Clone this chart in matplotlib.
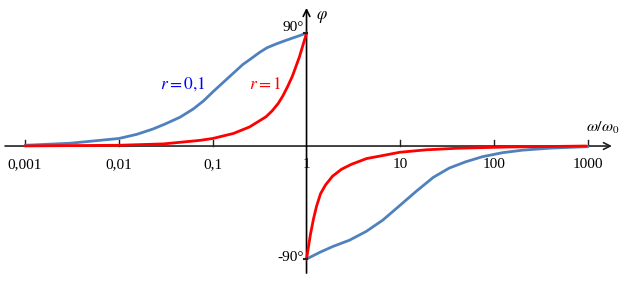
import numpy as np
import matplotlib.pyplot as plt

plt.rcParams['mathtext.fontset'] = 'stix'
plt.rcParams['font.family'] = ['Liberation Serif', 'DejaVu Serif']

# values (omega/omega0, phase in degrees)
blue_w_low = [0.001, 0.003, 0.01, 0.0155, 0.023, 0.031, 0.045, 0.062, 0.08, 0.1,
              0.14, 0.21, 0.25, 0.315, 0.38, 0.475, 0.58, 0.71, 0.85, 1.0]
blue_phi_low = [0.6, 2.2, 6.0, 9.3, 13.5, 17.5, 23.0, 29.5, 36.0, 43.0,
                53.0, 65.0, 69.0, 74.5, 78.3, 81.3, 83.7, 86.0, 88.0, 90.0]
blue_w_high = [1.0, 1.4, 1.91, 2.87, 4.33, 6.5, 10, 14.8, 22.4, 33.3, 50, 75, 123,
               200, 390, 1000]
blue_phi_high = [-90, -84.5, -80, -75, -68, -59, -47, -36, -25, -17.5, -12.5, -8.5,
                 -5.3, -3.3, -1.7, -0.5]

red_w_low = [0.001, 0.01, 0.03, 0.073, 0.1, 0.166, 0.247, 0.37, 0.43, 0.5, 0.56,
             0.63, 0.71, 0.84, 0.93, 0.97, 1.0]
red_phi_low = [0.1, 0.6, 1.7, 4.5, 6.0, 10.0, 15.2, 23.3, 28.0, 34.0, 40.0,
               47.5, 56.0, 71.0, 82.0, 86.5, 90.0]
red_w_high = [1.0, 1.05, 1.103, 1.187, 1.278, 1.41, 1.594, 1.893, 2.36, 3.02,
              4.36, 7.13, 9.8, 19, 39.7, 135, 960]
red_phi_high = [-90, -80, -70, -58, -48, -38, -31, -24, -18.5, -14.5,
                -10, -7, -5, -3, -1.8, -0.8, 0.0]

tick_vals = [0.001, 0.01, 0.1, 1, 10, 100, 1000]
tick_labels = ['0,001', '0,01', '0,1', '1', '10', '100', '1000']

fig = plt.figure(figsize=(6.26, 2.81), dpi=100)
ax = fig.add_axes([0, 0, 1, 1])
ax.set_xscale('log')
ax.set_xlim(10 ** -3.267, 10 ** 3.405)
ax.set_ylim(-107.5, 116.3)
ax.axis('off')

blue = '#4F81BD'
red = '#FF0000'
ax.plot(blue_w_low, blue_phi_low, color=blue, lw=2, solid_capstyle='round',
        solid_joinstyle='round', zorder=3)
ax.plot(blue_w_high, blue_phi_high, color=blue, lw=2, solid_capstyle='round',
        solid_joinstyle='round', zorder=3)
ax.plot(red_w_low, red_phi_low, color=red, lw=2, solid_capstyle='round',
        solid_joinstyle='round', zorder=4)
ax.plot(red_w_high, red_phi_high, color=red, lw=2, solid_capstyle='round',
        solid_joinstyle='round', zorder=4)

# axes with arrows
ax.annotate('', xy=(1803, 0), xytext=(0.000612, 0),
            arrowprops=dict(arrowstyle='->', lw=1.2, color='#222222',
                            shrinkA=0, shrinkB=0, mutation_scale=12), zorder=2)
ax.annotate('', xy=(1, 110), xytext=(1, -101.2),
            arrowprops=dict(arrowstyle='->', lw=1.2, color='black',
                            shrinkA=0, shrinkB=0, mutation_scale=12), zorder=2)

# decade ticks and labels
for v, lab in zip(tick_vals, tick_labels):
    if v != 1:
        ax.plot([v, v], [0, 4.5], color='#222222', lw=1, zorder=2)
    ax.text(v, -15, lab, ha='center', va='center', fontsize=11)

# y marks
for yv in (90, -90):
    ax.plot([0.94, 1], [yv, yv], color='#222222', lw=1.5, zorder=5)
ax.text(0.935, 94, '90°', ha='right', va='center', fontsize=11)
ax.text(0.935, -89, '-90°', ha='right', va='center', fontsize=11)

ax.text(1.25, 103, r'$\varphi$', ha='left', va='center', fontsize=12)
ax.text(1450, 14, r'$\omega/\omega_0$', ha='center', va='center', fontsize=11.5)

ax.text(0.048, 49, r'$r = 0{,}1$', color='#0000FF', ha='center', va='center', fontsize=12.5)
ax.text(0.36, 49, r'$r = 1$', color='#FF0000', ha='center', va='center', fontsize=12.5)

fig.savefig('out.png', dpi=100)
